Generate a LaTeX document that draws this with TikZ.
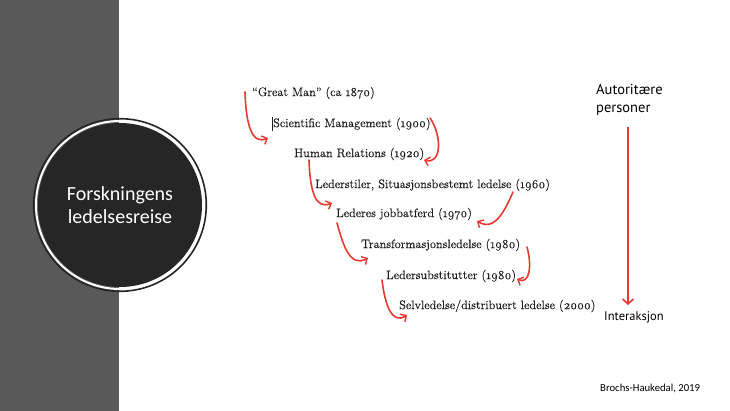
\documentclass[tikz,border=0pt]{standalone}
\usepackage{fontspec}
\usetikzlibrary{arrows.meta}
\setmainfont{Latin Modern Roman}
\newfontfamily\tlfont{Latin Modern Roman}[Numbers=OldStyle, FakeBold=0.5]
\newfontfamily\calfont{Carlito}
\newfontfamily\handfont{PT Sans}
\definecolor{bandgray}{HTML}{595959}
\definecolor{circdark}{HTML}{262626}
\definecolor{inkred}{RGB}{230,57,50}
\definecolor{txt}{HTML}{1F1F1F}
\tikzset{
  tl/.style={anchor=west, inner sep=0pt, font=\tlfont\fontsize{12.3}{14}\selectfont, text=txt},
  hand/.style={anchor=west, inner sep=0pt, font=\handfont\fontsize{14.5}{18}\selectfont, text=black},
  redarr/.style={draw=inkred, line width=1.6pt, line cap=round, -{Straight Barb[length=4.5pt,width=9pt,line width=1.4pt]}},
}
\begin{document}
\begin{tikzpicture}[x=1pt,y=-1pt]
\useasboundingbox (0,0) rectangle (730,411);
\fill[white] (0,0) rectangle (730,411);
\fill[bandgray] (0,0) rectangle (119,411);
% circle
\fill[circdark] (120,205) circle[radius=82];
\draw[white, line width=2pt] (120,205) circle[radius=84];
\draw[circdark, line width=1.6pt] (120,205) circle[radius=86.3];
\node[align=center, text=white, font=\calfont\fontsize{20}{23}\selectfont] (title) at (120,205) {Forskningens\\ledelsesreise};
% timeline
\node[tl] (t1) at (252,93) {“Great Man” (ca 1870)};
\node[tl] (t2) at (273,124) {Scientific Management (1900)};
\node[tl] (t3) at (294,154) {Human Relations (1920)};
\node[tl] (t4) at (315,185) {Lederstiler, Situasjonsbestemt ledelse (1960)};
\node[tl] (t5) at (336,214) {Lederes jobbatferd (1970)};
\node[tl] (t6) at (361,245) {Transformasjonsledelse (1980)};
\node[tl] (t7) at (386,276) {Ledersubstitutter (1980)};
\node[tl] (t8) at (399,306) {Selvledelse/distribuert ledelse (2000)};
\draw[txt, line width=0.6pt] (t2.west) ++(-1,-7) -- ++(0,14);
% arrows
\coordinate (a1s) at (245,92);  \coordinate (a1e) at (268,138);
\coordinate (a2s) at (430,118); \coordinate (a2e) at (424,160);
\coordinate (a3s) at (309,160); \coordinate (a3e) at (332,203);
\coordinate (a4s) at (513,192); \coordinate (a4e) at (477,221);
\coordinate (a5s) at (337,223); \coordinate (a5e) at (368,258);
\coordinate (a6s) at (527,247); \coordinate (a6e) at (517,279);
\coordinate (a7s) at (382,280); \coordinate (a7e) at (407,315);
\draw[redarr] (a1s) .. controls (246,125) and (252,145) .. (a1e);
\draw[redarr] (a2s) .. controls (442,135) and (442,165) .. (a2e);
\draw[redarr] (a3s) .. controls (310,190) and (315,210) .. (a3e);
\draw[redarr] (a4s) .. controls (505,210) and (495,232) .. (a4e);
\draw[redarr] (a5s) .. controls (343,245) and (350,268) .. (a5e);
\draw[redarr] (a6s) .. controls (532,265) and (530,285) .. (a6e);
\draw[redarr] (a7s) .. controls (385,305) and (392,325) .. (a7e);
% authority axis
\node[hand, align=left, anchor=north west] (auth) at (596,84) {Autoritære\\personer};
\node[hand, font=\handfont\fontsize{12.5}{14}\selectfont] (inter) at (604,317) {Interaksjon};
\coordinate (axs) at (628,127);
\coordinate (axe) at (628,305);
\draw[draw=inkred, line width=2pt, -{Straight Barb[length=5pt,width=11pt,line width=1.6pt]}] (axs) -- (axe);
% credit
\node[anchor=west, inner sep=0pt, font=\calfont\fontsize{10.7}{12}\selectfont] (credit) at (600,388) {Brochs-Haukedal, 2019};
\end{tikzpicture}
\end{document}
